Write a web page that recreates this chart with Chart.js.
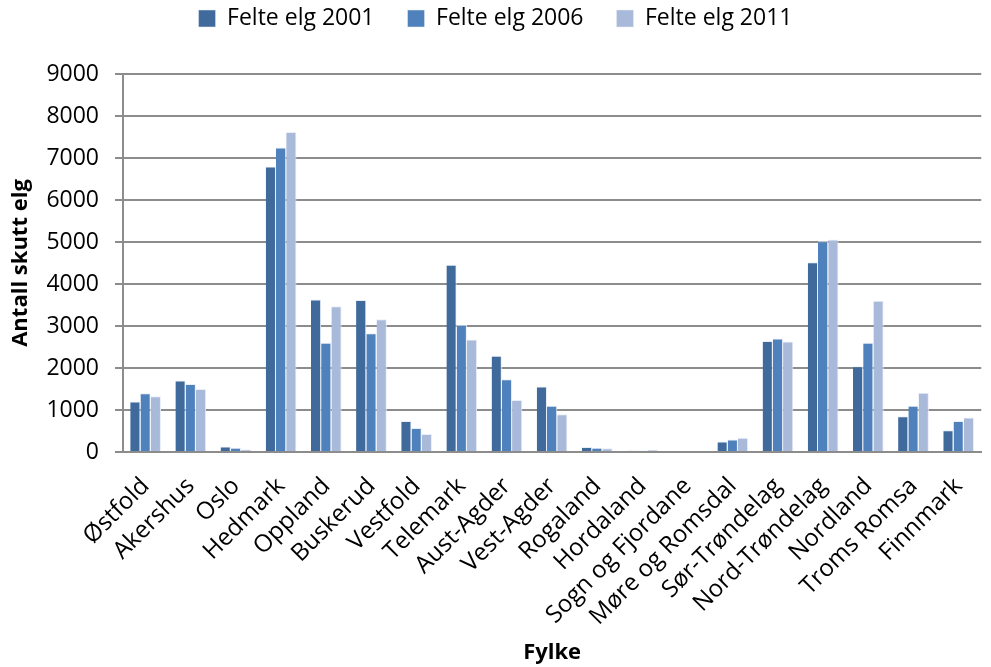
<!DOCTYPE html>
<html lang="no">
<head>
  <meta charset="UTF-8">
  <title>Felte elg per fylke</title>
  <script src="https://cdn.jsdelivr.net/npm/chart.js"></script>
  <style>
    body { margin: 0; background: #fff; }
    #wrap { width: 991px; height: 667px; }
  </style>
</head>
<body>
  <div id="wrap"><canvas id="chart"></canvas></div>
  <script>
    // Data
    const fylker = ['Østfold', 'Akershus', 'Oslo', 'Hedmark', 'Oppland', 'Buskerud', 'Vestfold', 'Telemark',
      'Aust-Agder', 'Vest-Agder', 'Rogaland', 'Hordaland', 'Sogn og Fjordane', 'Møre og Romsdal',
      'Sør-Trøndelag', 'Nord-Trøndelag', 'Nordland', 'Troms Romsa', 'Finnmark'];
    const elg2001 = [1200, 1700, 130, 6800, 3630, 3620, 740, 4460, 2290, 1560, 120, 30, 0, 250, 2640, 4520, 2040, 850, 520];
    const elg2006 = [1400, 1620, 100, 7250, 2600, 2830, 570, 3030, 1730, 1100, 100, 30, 0, 300, 2700, 5020, 2600, 1100, 740];
    const elg2011 = [1330, 1500, 60, 7620, 3470, 3160, 430, 2680, 1240, 900, 90, 50, 0, 340, 2630, 5060, 3600, 1410, 820];

    const font = "'Open Sans', 'Liberation Sans', sans-serif";
    const edge = { left: 0, right: 1, top: 1, bottom: 0 };

    // push the plot area down below the legend
    const legendGap = {
      id: 'legendGap',
      beforeInit(chart) {
        const fit = chart.legend.fit;
        chart.legend.fit = function () {
          fit.call(this);
          this.height += 34;
        };
      }
    };

    new Chart(document.getElementById('chart'), {
      type: 'bar',
      data: {
        labels: fylker,
        datasets: [
          { label: 'Felte elg 2001', data: elg2001, backgroundColor: '#3F6A9B', borderColor: '#E8EEF7', borderWidth: edge },
          { label: 'Felte elg 2006', data: elg2006, backgroundColor: '#4F81BD', borderColor: '#E8EEF7', borderWidth: edge },
          { label: 'Felte elg 2011', data: elg2011, backgroundColor: '#A9B9D9', borderColor: '#E8EEF7', borderWidth: edge }
        ]
      },
      options: {
        responsive: true,
        maintainAspectRatio: false,
        animation: false,
        layout: { padding: { top: -26, right: 0, left: 0, bottom: 0 } },
        datasets: { bar: { categoryPercentage: 0.68, barPercentage: 1.0 } },
        plugins: {
          legend: {
            position: 'top',
            labels: { font: { family: font, size: 23 }, color: '#000', boxWidth: 17, boxHeight: 17, padding: 33 }
          },
          tooltip: { enabled: false }
        },
        scales: {
          x: {
            afterFit: (s) => { s.height = 215; },
            grid: { display: false },
            border: { color: '#8C8C8C', width: 2 },
            ticks: { font: { family: font, size: 24 }, color: '#000', minRotation: 45, maxRotation: 45, autoSkip: false, padding: 12 },
            title: { display: true, text: 'Fylke', font: { family: font, size: 22, weight: 'bold' }, color: '#000', padding: { top: 4, bottom: 1 } }
          },
          y: {
            afterFit: (s) => { s.width = 123; },
            min: 0, max: 9000,
            ticks: { stepSize: 1000, font: { family: font, size: 23 }, color: '#000', padding: 16, callback: (v) => String(v) },
            grid: { color: '#8C8C8C', lineWidth: 2, tickLength: 8 },
            border: { color: '#8C8C8C', width: 2 },
            title: { display: true, text: 'Antall skutt elg', font: { family: font, size: 22, weight: 'bold' }, color: '#000', padding: { top: 8, bottom: 4 } }
          }
        }
      },
      plugins: [legendGap]
    });
  </script>
</body>
</html>
